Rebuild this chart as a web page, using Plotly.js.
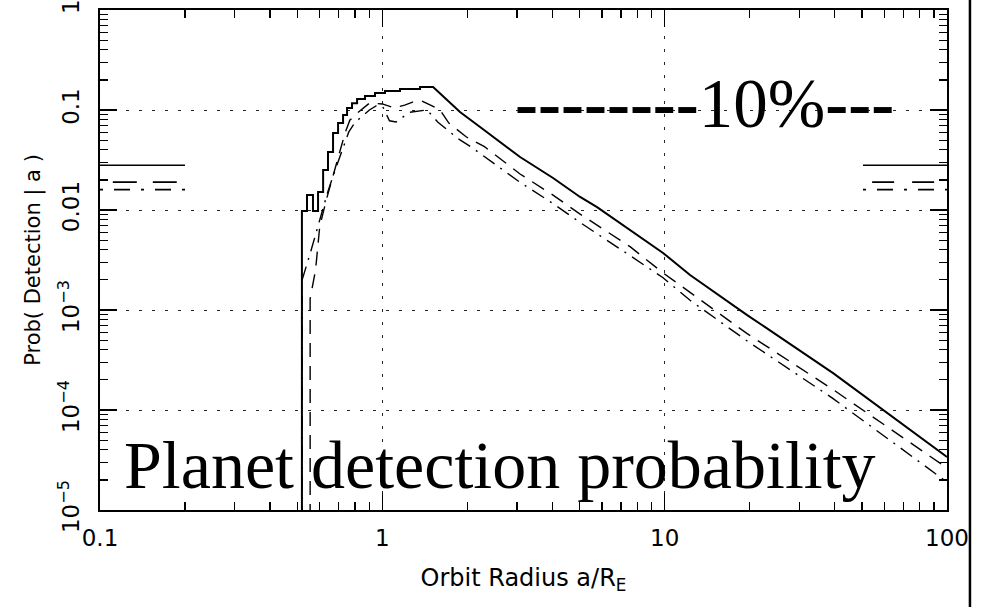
<!DOCTYPE html>
<html>
<head>
<meta charset="utf-8">
<script src="https://cdn.plot.ly/plotly-3.0.1.min.js"></script>
<style>html,body{margin:0;padding:0;background:#fff;}#chart{width:989px;height:607px;}</style>
</head>
<body>
<div id="chart"></div>
<script>
// ---- data ----
var solidX = [0.519, 0.519, 0.541, 0.541, 0.568, 0.568, 0.592, 0.592, 0.617, 0.617, 0.642, 0.642, 0.669, 0.669, 0.697, 0.697, 0.726, 0.726, 0.750, 0.750, 0.781, 0.781, 0.814, 0.814, 0.868, 0.868, 0.942, 0.942, 1.022, 1.022, 1.155, 1.155, 1.360, 1.360, 1.513, 1.884, 2.219, 3.075, 4.024, 5.017, 5.762, 7.54, 9.87, 12.3, 19.6, 39.5, 61.4, 100];
var solidY = [1e-6, 0.0098, 0.0098, 0.0141, 0.0141, 0.0098, 0.0098, 0.0151, 0.0151, 0.0251, 0.0251, 0.038, 0.038, 0.0589, 0.0589, 0.0741, 0.0741, 0.0891, 0.0891, 0.105, 0.105, 0.117, 0.117, 0.129, 0.129, 0.138, 0.138, 0.148, 0.148, 0.155, 0.155, 0.162, 0.162, 0.170, 0.170, 0.0955, 0.0676, 0.0339, 0.0209, 0.0135, 0.0107, 0.0063, 0.00372, 0.00224, 8.9e-4, 2.34e-4, 9.3e-5, 3.39e-5];

var dashX = [0.555, 0.555, 0.58, 0.60, 0.633, 0.687, 0.708, 0.738, 0.767, 0.814, 0.90, 1.0, 1.1, 1.2, 1.28, 1.38, 1.5, 1.6, 1.72, 1.98, 2.3, 3.075, 4.024, 5.017, 7.54, 9.87, 12.3, 19.6, 39.5, 61.4, 100];
var dashY = [1e-6, 0.0013, 0.0025, 0.0068, 0.0126, 0.0295, 0.038, 0.059, 0.079, 0.093, 0.117, 0.115, 0.105, 0.112, 0.120, 0.123, 0.110, 0.100, 0.074, 0.054, 0.043, 0.0229, 0.0141, 0.0091, 0.0043, 0.00235, 0.0015, 5.8e-4, 1.6e-4, 6.8e-5, 2.63e-5];

var dotdashX = [0.52, 0.52, 0.56, 0.60, 0.64, 0.68, 0.72, 0.76, 0.80, 0.86, 0.90, 0.95, 1.0, 1.06, 1.12, 1.25, 1.44, 1.57, 1.85, 2.08, 3.075, 4.024, 5.017, 7.54, 9.87, 12.3, 19.6, 39.5, 61.4, 100];
var dotdashY = [1e-6, 0.002, 0.004, 0.008, 0.015, 0.025, 0.040, 0.060, 0.075, 0.090, 0.100, 0.110, 0.110, 0.078, 0.076, 0.095, 0.100, 0.076, 0.052, 0.042, 0.0189, 0.0116, 0.0075, 0.0035, 0.0021, 0.00125, 4.9e-4, 1.3e-4, 5.2e-5, 1.9e-5];

// short reference levels at the left and right edges
var levelSolidY = 0.028, levelDashY = 0.019, levelDotDashY = 0.016;
var leftSolidX = [0.1, 0.2], rightSolidX = [50.4, 100];
var leftDashX = [0.111, 0.187], rightDashX = [54.3, 90.8];
var leftDotDashX = [0.1, 0.2], rightDotDashX = [50.4, 100];

var xTickVals = [0.1, 1, 10, 100];
var xTickText = ['0.1', '1', '10', '100'];
var yTickVals = [1e-5, 1e-4, 1e-3, 0.01, 0.1, 1];
var yTickText = ['10<sup>\u22125</sup>', '10<sup>\u22124</sup>', '10<sup>\u22123</sup>', '0.01', '0.1', '1'];

// ---- traces ----
function seg(xs, yv, dash, w) {
  return {x: xs, y: [yv, yv], mode: 'lines', type: 'scatter', hoverinfo: 'skip',
          line: {color: '#000', width: w, dash: dash}, showlegend: false};
}
var traces = [
  {x: solidX, y: solidY, mode: 'lines', type: 'scatter', line: {color: '#000', width: 2}, showlegend: false},
  {x: dashX, y: dashY, mode: 'lines', type: 'scatter', line: {color: '#000', width: 1.4, dash: '14px,9px'}, showlegend: false},
  {x: dotdashX, y: dotdashY, mode: 'lines', type: 'scatter', line: {color: '#000', width: 1.4, dash: '14px,7px,2px,7px'}, showlegend: false},
  seg(leftSolidX, levelSolidY, 'solid', 1.6),
  seg(rightSolidX, levelSolidY, 'solid', 1.6),
  seg(leftDashX, levelDashY, '24px,16px', 1.6),
  seg(rightDashX, levelDashY, '22px,18px', 1.6),
  seg(leftDotDashX, levelDotDashY, '3px,11px,16px,11px', 1.6),
  seg(rightDotDashX, levelDotDashY, '3px,11px,16px,11px', 1.6)
];

var fam = 'DejaVu Sans, Liberation Sans, sans-serif';
var tickFont = {family: fam, size: 23, color: '#000'};
var gridCommon = {showgrid: true, gridcolor: '#222', gridwidth: 1, griddash: '3px,10px'};

var layout = {
  width: 989, height: 607,
  margin: {l: 100, r: 42, t: 10, b: 97, pad: 0},
  paper_bgcolor: '#fff', plot_bgcolor: '#fff',
  showlegend: false,
  xaxis: Object.assign({
    type: 'log', range: [-1, 2], tickmode: 'array', tickvals: xTickVals, ticktext: xTickText,
    ticks: 'inside', ticklen: 17, tickwidth: 1.5, tickcolor: '#000',
    showline: true, linecolor: '#000', linewidth: 2, mirror: 'allticks',
    zeroline: false, tickfont: tickFont, ticklabelstandoff: 6, ticklabeloverflow: 'allow',
    minor: {ticks: 'inside', ticklen: 8, tickwidth: 1.2, tickcolor: '#000', dtick: 'D1', showgrid: false},
    title: {text: 'Orbit Radius a/R<sub>E</sub>', font: {family: fam, size: 24, color: '#000'}, standoff: 20}
  }, gridCommon),
  yaxis: Object.assign({
    type: 'log', range: [-5, 0], tickmode: 'array', tickvals: yTickVals, ticktext: yTickText,
    ticks: 'inside', ticklen: 17, tickwidth: 1.5, tickcolor: '#000', tickangle: -90,
    showline: true, linecolor: '#000', linewidth: 2, mirror: 'allticks',
    zeroline: false, tickfont: tickFont, ticklabelstandoff: 10, ticklabeloverflow: 'allow',
    minor: {ticks: 'inside', ticklen: 8, tickwidth: 1.2, tickcolor: '#000', dtick: 'D1', showgrid: false},
    title: {text: 'Prob( Detection | a )', font: {family: fam, size: 21, color: '#000'}, standoff: 8}
  }, gridCommon),
  annotations: [
    {xref: 'paper', yref: 'paper', x: 0.026, y: 0.09, xanchor: 'left', yanchor: 'middle', showarrow: false,
     text: 'Planet detection probability', font: {family: 'Liberation Serif, Times New Roman, serif', size: 68, color: '#000'}},
    {xref: 'paper', yref: 'paper', x: 0.7137, y: 0.812, xanchor: 'center', yanchor: 'middle', showarrow: false,
     text: '<b>--------</b>10%<b>---</b>', font: {family: 'Liberation Serif, Times New Roman, serif', size: 69, color: '#000'}}
  ],
  shapes: [
    {type: 'line', xref: 'paper', yref: 'paper', x0: 1.0271, x1: 1.0271, y0: -0.2, y1: 1.03,
     line: {color: '#000', width: 2.5}}
  ]
};

Plotly.newPlot('chart', traces, layout, {staticPlot: true, displayModeBar: false});
</script>
</body>
</html>
